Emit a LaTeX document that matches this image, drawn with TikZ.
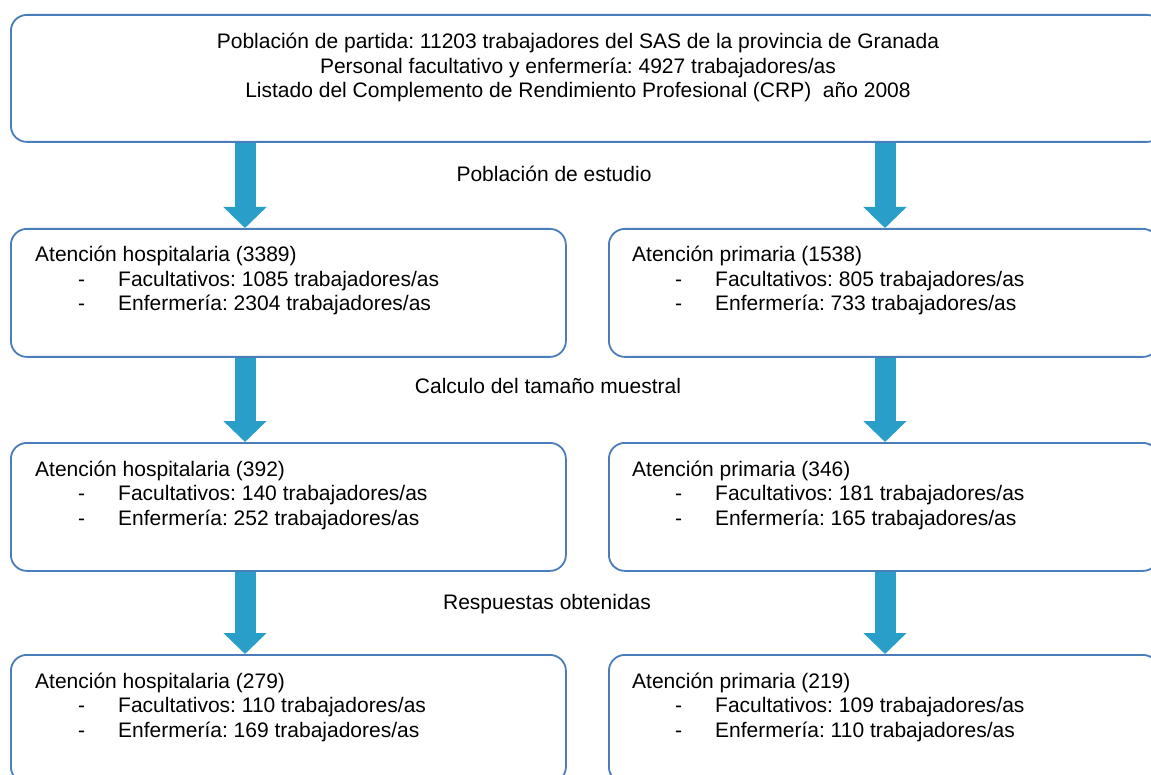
\documentclass[tikz,border=0pt]{standalone}
\usepackage{fontspec}
\setmainfont{Liberation Sans}
\usetikzlibrary{arrows.meta,positioning}
\definecolor{lineblue}{RGB}{74,126,187}
\definecolor{arrowblue}{RGB}{40,158,201}
\newcommand{\sublinea}[1]{\hspace*{43pt}\makebox[40pt][l]{-}#1}
\frenchspacing

\begin{document}
\begin{tikzpicture}[x=1pt, y=-1pt,
          box/.style={draw=lineblue, line width=1.8pt,
                      rounded corners=16pt, anchor=north west,
                      inner sep=0pt},
          txt/.style={anchor=base west, align=left, inner sep=0pt,
                      font=\fontsize{21}{24.5}\selectfont},
          lbl/.style={anchor=base, inner sep=0pt,
                      font=\fontsize{21}{24}\selectfont},
          bigarrow/.style={draw=arrowblue, line width=21pt,
                      -{Triangle[width=42pt,length=21pt]}}]
        \useasboundingbox (0,0) rectangle (1151,775);
        % cajas
        \node[box, minimum width=1152pt, minimum height=127pt] (partida) at (10,14) {};
        \node[box, minimum width=555pt, minimum height=128pt] (hosp1) at (10,228) {};
        \node[box, minimum width=550pt, minimum height=128pt] (prim1) at (608,228) {};
        \node[box, minimum width=555pt, minimum height=128pt] (hosp2) at (10,442) {};
        \node[box, minimum width=550pt, minimum height=128pt] (prim2) at (608,442) {};
        \node[box, minimum width=555pt, minimum height=128pt] (hosp3) at (10,654) {};
        \node[box, minimum width=550pt, minimum height=128pt] (prim3) at (608,654) {};
        % textos (la base del nodo es la de la ultima linea)
        \node[txt, anchor=base, align=center] (partidatxt) at (578,98) {%
          Población de partida: 11203 trabajadores del SAS de la provincia de Granada\\
          Personal facultativo y enfermería: 4927 trabajadores/as\\
          Listado del Complemento de Rendimiento Profesional (CRP)~ año 2008};
        \node[txt] (hosp1txt) at (35,311) {Atención hospitalaria (3389)\\
          \sublinea{Facultativos: 1085 trabajadores/as}\\
          \sublinea{Enfermería: 2304 trabajadores/as}};
        \node[txt] (prim1txt) at (632,311) {Atención primaria (1538)\\
          \sublinea{Facultativos: 805 trabajadores/as}\\
          \sublinea{Enfermería: 733 trabajadores/as}};
        \node[txt] (hosp2txt) at (35,525) {Atención hospitalaria (392)\\
          \sublinea{Facultativos: 140 trabajadores/as}\\
          \sublinea{Enfermería: 252 trabajadores/as}};
        \node[txt] (prim2txt) at (632,525) {Atención primaria (346)\\
          \sublinea{Facultativos: 181 trabajadores/as}\\
          \sublinea{Enfermería: 165 trabajadores/as}};
        \node[txt] (hosp3txt) at (35,737) {Atención hospitalaria (279)\\
          \sublinea{Facultativos: 110 trabajadores/as}\\
          \sublinea{Enfermería: 169 trabajadores/as}};
        \node[txt] (prim3txt) at (632,737) {Atención primaria (219)\\
          \sublinea{Facultativos: 109 trabajadores/as}\\
          \sublinea{Enfermería: 110 trabajadores/as}};
        % etiquetas
        \node[lbl] (estudio) at (554,182) {Población de estudio};
        \node[lbl] (muestral) at (548,394) {Calculo del tamaño muestral};
        \node[lbl] (respuestas) at (547,609) {Respuestas obtenidas};
        % flechas
        \coordinate (puntaH1) at ([xshift=235pt]hosp1.north west);
        \coordinate (puntaP1) at ([xshift=277pt]prim1.north west);
        \coordinate (puntaH2) at ([xshift=235pt]hosp2.north west);
        \coordinate (puntaP2) at ([xshift=277pt]prim2.north west);
        \coordinate (puntaH3) at ([xshift=235pt]hosp3.north west);
        \coordinate (puntaP3) at ([xshift=277pt]prim3.north west);
        \draw[bigarrow] (partida.south -| puntaH1) -- (puntaH1);
        \draw[bigarrow] (partida.south -| puntaP1) -- (puntaP1);
        \draw[bigarrow] (hosp1.south -| puntaH2) -- (puntaH2);
        \draw[bigarrow] (prim1.south -| puntaP2) -- (puntaP2);
        \draw[bigarrow] (hosp2.south -| puntaH3) -- (puntaH3);
        \draw[bigarrow] (prim2.south -| puntaP3) -- (puntaP3);
      \end{tikzpicture}
\end{document}
